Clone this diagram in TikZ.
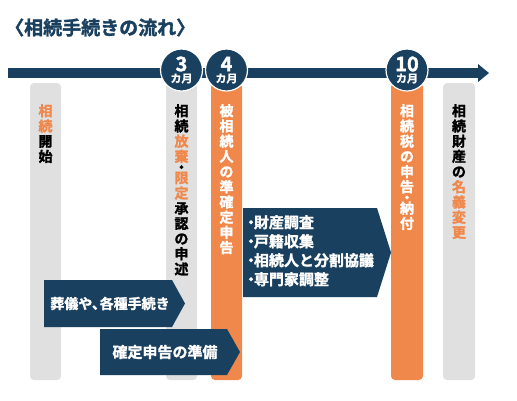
\documentclass[tikz,border=0pt]{standalone}
\usepackage{fontspec}
\setmainfont{Noto Sans CJK JP}[BoldFont={Noto Sans CJK JP Bold}, BoldFeatures={FakeBold=1.6}]
\definecolor{navy}{HTML}{1A4060}
\definecolor{org}{HTML}{F0874B}
\definecolor{gry}{HTML}{DFE0DF}
\newcommand{\oc}[1]{\textcolor{org}{#1}}
\begin{document}
\begin{tikzpicture}[x=1pt,y=-1pt,
  vbar/.style={rounded corners=4pt},
  vtext/.style={font=\bfseries\fontsize{14}{15.2}\selectfont, align=center, anchor=north, inner sep=0pt},
  mcirc/.style={circle, fill=navy, draw=white, line width=1.2pt, minimum size=42pt, inner sep=0pt},
  mnum/.style={text=white, font=\bfseries\fontsize{20}{20}\selectfont, inner sep=0pt},
  mlab/.style={text=white, font=\bfseries\fontsize{11}{11}\selectfont, inner sep=0pt},
  arrtext/.style={text=white, font=\bfseries\fontsize{14}{14}\selectfont, inner sep=0pt},
]
\useasboundingbox (0,0) rectangle (517,400);
\fill[white] (0,0) rectangle (517,400);

% title
\node[text=navy, font=\bfseries\fontsize{19}{19}\selectfont, anchor=west, inner sep=0pt] (title) at (5,27.5) {〈相続手続きの流れ〉};

% timeline
\fill[navy] (8,68) rectangle (480,78);
\fill[navy] (478,64) -- (489,73) -- (478,82) -- cycle;

% vertical bars
\fill[gry, vbar] (30,83) rectangle (61,380);
\fill[gry, vbar] (166,83) rectangle (197,380);
\fill[org, vbar] (211,83) rectangle (242,380);
\fill[org, vbar] (391,83) rectangle (423,380);
\fill[gry, vbar] (443,83) rectangle (475,380);

% month circles
\node[mcirc] (c3) at (181.5,70) {};
\node[mcirc] (c4) at (226.5,70) {};
\node[mcirc] (c10) at (407,70) {};
\node[mnum] (n3) at (181.5,64) {3};
\node[mlab] (l3) at (181.5,78.5) {カ月};
\node[mnum] (n4) at (226.5,64) {4};
\node[mlab] (l4) at (226.5,78.5) {カ月};
\node[mnum] (n10) at (407,64) {10};
\node[mlab] (l10) at (407,78.5) {カ月};

% vertical texts
\node[vtext] (t1) at (45.5,104) {\oc{相}\\\oc{続}\\開\\始};
\node[vtext] (t2) at (181.5,104) {相\\続\\\oc{放}\\\oc{棄}\\[-4.5pt]・\\[-4.5pt]\oc{限}\\\oc{定}\\承\\認\\の\\申\\述};
\node[vtext, text=white] (t3) at (226.5,104) {被\\相\\続\\人\\の\\準\\確\\定\\申\\告};
\node[vtext, text=white] (t4) at (407,104) {相\\続\\税\\の\\申\\告\\[-4.5pt]・\\[-4.5pt]納\\付};
\node[vtext] (t5) at (459,104) {相\\続\\財\\産\\の\\\oc{名}\\\oc{義}\\\oc{変}\\\oc{更}};

% arrows
\fill[navy] (44,280) -- (172,280) -- (185,303.5) -- (172,327) -- (44,327) -- cycle;
\node[arrtext] (a1) at (110,303.5) {葬儀や、\hspace{-0.45em}各種手続き};
\fill[navy] (100,329) -- (227,329) -- (240,352) -- (227,375) -- (100,375) -- cycle;
\node[arrtext, font=\bfseries\fontsize{15}{15}\selectfont] (a2) at (165,352) {確定申告の準備};
\fill[navy] (243,208) -- (377,208) -- (391,252.5) -- (377,297) -- (243,297) -- cycle;
\node[text=white, font=\bfseries\fontsize{15}{19}\selectfont, align=left, anchor=north west, inner sep=0pt] (a3) at (247,215)
  {\hspace{-0.25em}・\hspace{-0.3em}財産調査\\\hspace{-0.25em}・\hspace{-0.3em}戸籍収集\\\hspace{-0.25em}・\hspace{-0.3em}相続人と分割協議\\\hspace{-0.25em}・\hspace{-0.3em}専門家調整};
\end{tikzpicture}
\end{document}
